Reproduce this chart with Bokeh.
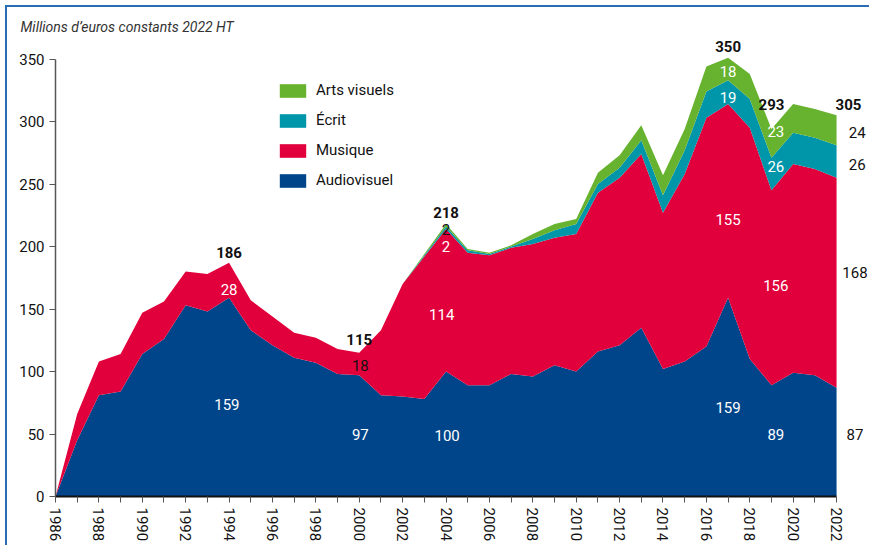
from bokeh.plotting import figure
from bokeh.models import (ColumnDataSource, FixedTicker, LabelSet, Legend,
                          LegendItem, Range1d)
from bokeh.core.properties import value
from bokeh.embed import file_html
from bokeh.resources import INLINE

# ---------------- data ----------------
years = list(range(1986, 2023))
audiovisuel = [0, 45, 81, 84, 114, 126, 153, 148, 159, 133, 121, 111, 107, 98, 97,
               81, 80, 78, 100, 89, 89, 98, 96, 105, 100, 116, 121, 135, 102, 108,
               120, 159, 110, 89, 99, 97, 87]
musique = [0, 21, 27, 30, 33, 30, 27, 30, 28, 24, 23, 20, 20, 20, 18,
           52, 90, 114, 114, 106, 104, 101, 106, 102, 110, 127, 134, 139, 125, 150,
           183, 155, 185, 156, 167, 165, 168]
ecrit = [0, 0, 0, 0, 0, 0, 0, 0, 0, 0, 0, 0, 0, 0, 0,
         0, 0, 1, 2, 2, 1, 1, 4, 6, 8, 7, 8, 11, 14, 19,
         21, 19, 23, 26, 25, 25, 26]
arts_visuels = [0, 0, 0, 0, 0, 0, 0, 0, 0, 0, 0, 0, 0, 0, 0,
                0, 0, 1, 2, 1, 1, 1, 4, 5, 4, 9, 10, 12, 16, 17,
                20, 18, 20, 23, 23, 23, 24]

series_names = ["Audiovisuel", "Musique", "Écrit", "Arts visuels"]
y_ticks = [0, 50, 100, 150, 200, 250, 300, 350]
x_label_years = list(range(1986, 2023, 2))
x_minor_years = list(range(1987, 2022, 2))
y_title = "Millions d’euros constants 2022 HT"

# annotations: totals (bold) and segment values
total_text = ["186", "115", "218", "350", "293", "305"]
total_x = [1994, 2000, 2004, 2017, 2019, 2022.55]
total_y = [195, 126, 227, 360, 314, 314]

seg_text = ["159", "28", "97", "18", "100", "114", "2", "2",
            "159", "155", "19", "18", "89", "156", "26", "23",
            "87", "168", "26", "24"]
seg_x = [1993.9, 1994, 2000.05, 2000.05, 2004.05, 2003.8, 2004, 2004,
         2017, 2017, 2017, 2017, 2019.2, 2019.2, 2019.2, 2019.2,
         2022.85, 2022.85, 2022.95, 2022.95]
seg_y = [74, 166, 50, 105, 49, 146, 200, 214,
         71, 222, 319, 340, 50, 169, 264, 292,
         50, 179, 266, 291]
seg_color = ["white", "white", "white", "#111111", "white", "white", "white", "#111111",
             "white", "white", "white", "white", "white", "white", "white", "white",
             "#111111", "#111111", "#111111", "#111111"]

colors = ["#00458a", "#e2003c", "#0096aa", "#67b32f"]
FONT = "Roboto"

src = ColumnDataSource(dict(year=years, audio=audiovisuel, musique=musique,
                            ecrit=ecrit, arts=arts_visuels))

p = figure(width=864, height=540, x_range=Range1d(1986, 2023.61), y_range=Range1d(0, 368),
           output_backend="svg", toolbar_location=None,
           min_border_left=48, min_border_right=0, min_border_top=29, min_border_bottom=51)
p.styles = {"margin-top": "5px", "margin-left": "5px",
            "border-top": "2px solid #2a6db3", "border-left": "2px solid #2a6db3"}
p.outline_line_color = None
p.xgrid.visible = False
p.ygrid.visible = False
p.background_fill_color = "white"

# title
p.title.text = y_title
p.title.align = "left"
p.title.offset = -35
p.title.standoff = 3
p.title.text_font = FONT
p.title.text_font_size = "14px"
p.title.text_font_style = "italic"
p.title.text_color = "#333333"

areas = p.varea_stack(stackers=["audio", "musique", "ecrit", "arts"], x="year",
                      color=colors, source=src)

items = [LegendItem(label=series_names[i], renderers=[areas[i]]) for i in [3, 2, 1, 0]]
legend = Legend(items=items, location=(221, 307), glyph_width=33, glyph_height=17,
                label_height=17, spacing=12, padding=0, margin=0, label_standoff=7,
                label_text_font=FONT, label_text_font_size="15px",
                label_text_color="#111111", border_line_alpha=0,
                background_fill_alpha=0)
p.add_layout(legend)

# axes
xa = p.xaxis[0]
xa.ticker = FixedTicker(ticks=x_label_years, minor_ticks=x_minor_years)
xa.bounds = (1986, 2022)
xa.major_label_orientation = "vertical"
xa.axis_line_color = "#111111"
xa.axis_line_width = 2
xa.major_tick_line_color = "#555555"
xa.minor_tick_line_color = "#555555"
xa.major_tick_out = 6
xa.major_tick_in = 0
xa.minor_tick_out = 6
xa.minor_tick_in = 0
xa.major_label_standoff = 5
xa.major_label_text_font = FONT
xa.major_label_text_font_size = "15px"
xa.major_label_text_color = "#111111"

ya = p.yaxis[0]
ya.ticker = FixedTicker(ticks=y_ticks)
ya.bounds = (0, 350)
ya.axis_line_color = "#555555"
ya.axis_line_width = 1.5
ya.major_tick_line_color = "#555555"
ya.major_tick_out = 6
ya.major_tick_in = 0
ya.minor_tick_line_color = None
ya.major_label_standoff = 5
ya.major_label_text_font = FONT
ya.major_label_text_font_size = "15px"
ya.major_label_text_color = "#111111"

# annotations
tsrc = ColumnDataSource(dict(x=total_x, y=total_y, text=total_text))
p.add_layout(LabelSet(x="x", y="y", text="text", source=tsrc, text_align="center",
                      text_baseline="middle", text_font=value(FONT),
                      text_font_size=value("15px"), text_font_style="bold",
                      text_color="#111111"))
ssrc = ColumnDataSource(dict(x=seg_x, y=seg_y, text=seg_text, color=seg_color))
p.add_layout(LabelSet(x="x", y="y", text="text", source=ssrc, text_align="center",
                      text_baseline="middle", text_font=value(FONT),
                      text_font_size=value("15px"), text_color="color"))

open("out.html", "w").write(file_html(p, INLINE))
